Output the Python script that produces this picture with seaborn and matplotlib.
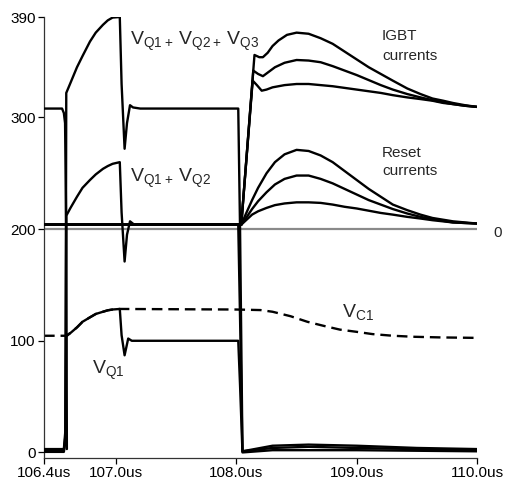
import matplotlib
matplotlib.use("Agg")
import matplotlib.pyplot as plt
import seaborn as sns

# time axis in microseconds, values in the left-axis units
# series IGBT voltages (solid)
t_vq123 = [106.40, 106.565, 106.578, 106.585, 106.62, 106.674, 106.72, 106.782, 106.83, 106.89,
           106.93, 106.97, 107.03, 107.045, 107.07, 107.09, 107.115, 107.14, 107.2,
           108.015, 108.03, 108.05, 108.3, 108.6, 109.0, 109.5, 110.0]
v_vq123 = [3, 3, 20, 322, 331, 345, 355, 368, 376, 383,
           387, 389.5, 390, 330, 272, 295, 311, 309, 308,
           308, 200, 1, 6, 7, 6, 4, 3]

t_vq12 = [106.40, 106.565, 106.578, 106.585, 106.62, 106.674, 106.72, 106.782, 106.83, 106.89,
          106.93, 106.97, 107.03, 107.045, 107.07, 107.09, 107.115, 107.15,
          108.015, 108.03, 108.05, 108.3, 108.6, 109.0, 109.5, 110.0]
v_vq12 = [2, 2, 15, 212, 219, 229, 237, 244, 249, 254,
          256.5, 258.5, 260, 215, 171, 195, 207, 204,
          204, 120, 1, 4, 5, 4, 3, 2]

t_vq1 = [106.40, 106.565, 106.578, 106.585, 106.62, 106.674, 106.72, 106.782, 106.83, 106.89,
         106.93, 106.97, 107.03, 107.045, 107.07, 107.1, 107.13,
         108.015, 108.03, 108.05, 108.3, 109.0, 110.0]
v_vq1 = [0.5, 0.5, 10, 104, 107, 112, 117, 121, 124, 126,
         127.3, 128, 128.5, 105, 87, 102, 100,
         100, 60, 0, 2, 2, 1]

# trace that falls from the upper level at turn-on
t_pre = [106.40, 106.55, 106.565, 106.575, 106.585, 106.59]
v_pre = [308, 308, 304, 295, 200, 3]

# clamp capacitor voltage (dashed)
t_vc1 = [106.40, 106.58, 106.62, 106.674, 106.72, 106.782, 106.83, 106.89, 106.93, 106.97, 107.03,
         108.0, 108.2, 108.3, 108.45, 108.59, 108.72, 108.86, 109.0, 109.13, 109.3, 109.47, 109.7, 110.0]
v_vc1 = [104.5, 104.5, 107, 112, 117, 121, 124, 126, 127.3, 128, 128.5,
         128, 127.5, 126, 122, 117, 113.5, 110, 108, 106, 104.5, 103.6, 103, 102.6]

# IGBT currents (zero level sits on the 200 line)
t_igbt_a = [106.40, 108.04, 108.15, 108.19, 108.22, 108.26, 108.3, 108.35, 108.42, 108.5, 108.6, 108.7,
            108.8, 108.9, 109.0, 109.1, 109.2, 109.3, 109.42, 109.53, 109.63, 109.72, 109.8, 109.9, 110.0]
v_igbt_a = [204, 204, 356, 354, 354, 358, 364, 369, 374, 376, 375, 371,
            366, 359, 352, 345, 339, 333, 326, 321, 317, 315, 313, 311, 309.5]
t_igbt_b = [106.40, 108.04, 108.14, 108.18, 108.22, 108.27, 108.32, 108.4, 108.5, 108.6, 108.7,
            108.8, 108.9, 109.0, 109.1, 109.2, 109.3, 109.42, 109.53, 109.63, 109.72, 109.8, 109.9, 110.0]
v_igbt_b = [204, 204, 342, 339, 337, 341, 345, 349, 351.5, 351, 349.5,
            346, 342, 338, 333.5, 329, 325, 321, 318, 315.5, 313.5, 312, 310.5, 309.5]
t_igbt_c = [106.40, 108.04, 108.135, 108.17, 108.21, 108.25, 108.3, 108.4, 108.5, 108.6, 108.7,
            108.8, 108.9, 109.0, 109.1, 109.2, 109.3, 109.42, 109.53, 109.63, 109.72, 109.8, 109.9, 110.0]
v_igbt_c = [204, 204, 333, 329, 324, 325, 327, 329, 330, 330, 329,
            328, 326.5, 325, 323.5, 322, 320, 318, 316.5, 315, 313, 312, 310.5, 309.5]

# reset currents
t_reset = [106.40, 108.04, 108.08, 108.13, 108.18, 108.25, 108.32, 108.4, 108.5, 108.6, 108.7,
           108.8, 108.9, 109.0, 109.1, 109.2, 109.3, 109.42, 109.53, 109.63, 109.8, 110.0]
v_reset_a = [204, 204, 214, 226, 237, 250, 260, 267, 271, 270, 266,
             260, 252, 244, 236, 229, 222, 217, 213, 210, 207, 205]
v_reset_b = [204, 204, 210, 218, 225, 233, 240, 245, 248, 248, 245,
             241, 236, 231, 226, 222, 218, 214, 211, 209, 206, 205]
v_reset_c = [204, 204, 208, 213, 216, 219, 221.5, 223, 224, 224, 223.5,
             222, 220, 218.5, 216.5, 214.5, 213, 211, 209.5, 208, 206, 205]

x_ticks = [106.4, 107.0, 108.0, 109.0, 110.0]
x_labels = ["106.4us", "107.0us", "108.0us", "109.0us", "110.0us"]
y_ticks = [0, 100, 200, 300, 390]

sns.set_style("ticks")
plt.rcParams["font.family"] = ["Liberation Sans", "DejaVu Sans"]

fig = plt.figure(figsize=(5.16, 4.86), dpi=100)
ax = fig.add_axes([0.0853, 0.0576, 0.8391, 0.9074])

ax.axhline(200, color="#8a8a8a", lw=1.6, zorder=1)

solid = [(t_vq123, v_vq123), (t_vq12, v_vq12), (t_vq1, v_vq1), (t_pre, v_pre),
         (t_igbt_a, v_igbt_a), (t_igbt_b, v_igbt_b), (t_igbt_c, v_igbt_c),
         (t_reset, v_reset_a), (t_reset, v_reset_b), (t_reset, v_reset_c)]
for tt, vv in solid:
    sns.lineplot(x=tt, y=vv, ax=ax, color="black", lw=1.7, estimator=None, sort=False, zorder=3)

sns.lineplot(x=t_vc1, y=v_vc1, ax=ax, color="black", lw=1.7, estimator=None, sort=False, zorder=2)
ax.lines[-1].set_dashes([4.5, 2.5])

ax.set_xlim(106.4, 110.0)
ax.set_ylim(-5, 390)
ax.set_xticks(x_ticks)
ax.set_xticklabels(x_labels)
ax.set_yticks(y_ticks)
ax.tick_params(labelsize=11, length=4, width=0.9, colors="black", pad=2)
sns.despine(ax=ax)
for s in ["left", "bottom"]:
    ax.spines[s].set_linewidth(0.9)
    ax.spines[s].set_color("#333333")
ax.set_xlabel("")
ax.set_ylabel("")

big = 14
ax.text(107.115, 365, r"$\mathregular{V_{Q1+}\,V_{Q2+}\,V_{Q3}}$", fontsize=big, va="baseline")
ax.text(107.115, 242, r"$\mathregular{V_{Q1+}\,V_{Q2}}$", fontsize=big, va="baseline")
ax.text(106.8, 70.4, r"$\mathregular{V_{Q1}}$", fontsize=big, va="baseline")
ax.text(108.875, 121.5, r"$\mathregular{V_{C1}}$", fontsize=big, va="baseline")
ax.text(109.21, 369.6, "IGBT", fontsize=11, va="baseline")
ax.text(109.21, 351.7, "currents", fontsize=11, va="baseline")
ax.text(109.21, 264.7, "Reset", fontsize=11, va="baseline")
ax.text(109.21, 248.6, "currents", fontsize=11, va="baseline")
ax.text(110.175, 196.7, "0", fontsize=11, ha="center", va="center")

fig.savefig("out.png", dpi=100)
